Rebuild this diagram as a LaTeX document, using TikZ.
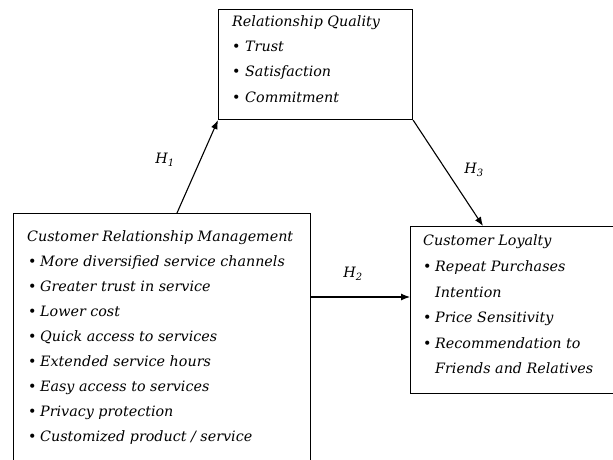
\documentclass[tikz,border=0pt]{standalone}
\usepackage{fontspec}
\setmainfont{DejaVu Serif}
\usetikzlibrary{arrows.meta}
\newcommand{\boxfont}{\fontsize{14.3}{17}\selectfont\itshape}
\begin{document}
\begin{tikzpicture}[x=1pt,y=-1pt,
    box/.style={draw,line width=1.1pt,anchor=north west,inner sep=0pt},
    item/.style={anchor=base west,inner sep=0pt,font=\boxfont},
    hyp/.style={inner sep=0pt,font=\boxfont},
    link/.style={line width=1.1pt,-{Latex[length=9pt,width=7pt]}}]
    \useasboundingbox (0,0) rectangle (613,460);

    % the three constructs
    \node[box,minimum width=194,minimum height=110] (rq)  at (218,9) {};
    \node[box,minimum width=297,minimum height=260] (crm) at (13,213) {};
    \node[box,minimum width=210,minimum height=167] (cl)  at (410,226) {};

    % relationship quality
    \node[item] (rqt) at (232,27) {Relationship Quality};
    \foreach \name/\txt [count=\i] in {trust/Trust,satis/Satisfaction,commit/Commitment} {
        \node[item] (b-\name) at (232,27+25*\i) {\textbullet};
        \node[item] (rq-\name) at (245,27+25*\i) {\txt};
    }

    % customer relationship management
    \node[item] (crmt) at (27,241) {Customer Relationship Management};
    \foreach \name/\txt [count=\i] in {chan/More diversified service channels,
            trust/Greater trust in service,cost/Lower cost,
            quick/Quick access to services,hours/Extended service hours,
            easy/Easy access to services,priv/Privacy protection,
            custom/{Customized product / service}} {
        \node[item] (c-\name) at (28,241+25*\i) {\textbullet};
        \node[item] (crm-\name) at (40,241+25*\i) {\txt};
    }

    % customer loyalty
    \node[item] (clt) at (423,245) {Customer Loyalty};
    \node[item] (b-rep) at (423,271) {\textbullet};
    \node[item] (cl-rep) at (435,271) {Repeat Purchases};
    \node[item] (cl-int) at (435,297) {Intention};
    \node[item] (b-price) at (423,322) {\textbullet};
    \node[item] (cl-price) at (435,322) {Price Sensitivity};
    \node[item] (b-rec) at (423,348) {\textbullet};
    \node[item] (cl-rec) at (435,348) {Recommendation to};
    \node[item] (cl-fr) at (435,373) {Friends and Relatives};

    % hypotheses
    \coordinate (h1s) at (177,213);
    \coordinate (h3e) at (483,226);
    \coordinate (h2s) at (310,297);
    \draw[link] (h1s) -- (rq.south west);
    \draw[link] (rq.south east) -- (h3e);
    \draw[link] (h2s) -- (h2s -| cl.west);

    \node[hyp] (h1) at (165,160) {H\textsubscript{1}};
    \node[hyp] (h3) at (474,170) {H\textsubscript{3}};
    \node[hyp] (h2) at (353,274) {H\textsubscript{2}};
\end{tikzpicture}
\end{document}
